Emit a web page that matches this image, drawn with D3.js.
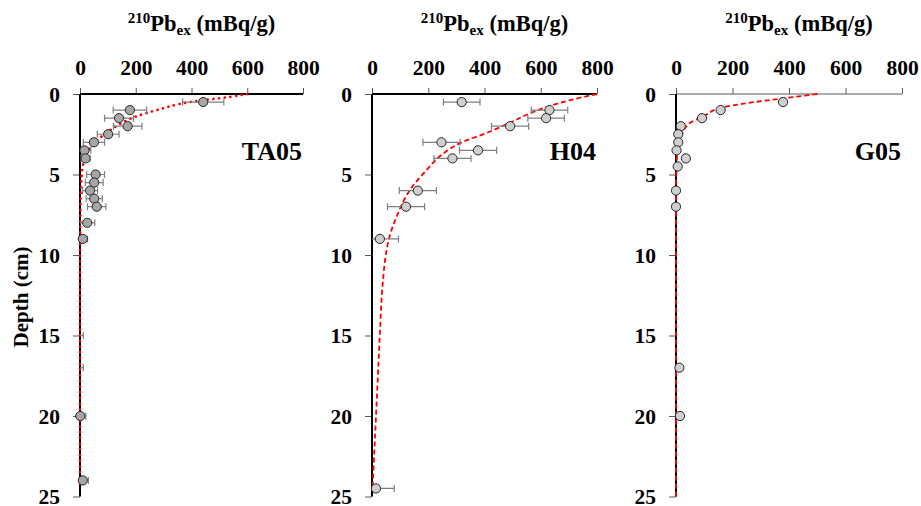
<!DOCTYPE html>
<html>
<head>
<meta charset="utf-8">
<script src="https://d3js.org/d3.v7.min.js"></script>
<style>
  body { margin: 0; background: #fff; }
  text { font-family: "Liberation Serif", "Times New Roman", serif; font-weight: bold; fill: #000; }
</style>
</head>
<body>
<div id="chart"></div>
<script>
// tick values
var depthTicks = [0, 5, 10, 15, 20, 25];
var actTicks = [0, 200, 400, 600, 800];
var siteNames = ["TA05", "H04", "G05"];

// TA05 measured 210Pbex (mBq/g) with error
var ta05Depth = [0.5, 1, 1.5, 2, 2.5, 3, 3.5, 4, 5, 5.5, 6, 6.5, 7, 8, 9, 15, 17, 20, 24];
var ta05Pb    = [442, 179, 140, 171, 101, 50, 16, 20, 56, 51, 36, 51, 60, 26, 10, -3, -3, 1, 10];
var ta05Err   = [74, 60, 52, 51, 39, 38, 23, 16, 32, 32, 27, 29, 33, 27, 17, 15, 15, 20, 20];
// TA05 fitted curve
var ta05FitDepth = [0, 0.17, 0.5, 1.0, 1.4, 1.9, 2.5, 3.0, 3.5, 4.0, 4.6, 5.3, 6.5, 8, 10, 24.2];
var ta05FitPb    = [600, 540, 395, 275, 200, 140, 88, 52, 30, 17, 9, 5, 2, 1, 0, 0];

// H04
var h04Depth = [0.5, 1, 1.5, 2, 3, 3.5, 4, 6, 7, 9, 24.5];
var h04Pb    = [319, 631, 619, 491, 247, 377, 286, 163, 121, 28, 14];
var h04Err   = [65, 65, 65, 66, 66, 66, 66, 66, 66, 66, 65];
var h04FitDepth = [0, 0.4, 0.75, 1.2, 1.78, 2.33, 3.05, 3.77, 4.7, 5.96, 7.6, 9.0, 9.9, 11.8, 14.9, 19, 24.5];
var h04FitPb    = [800, 700, 631, 562, 491, 420, 313, 248, 195, 135, 88, 60, 50, 38, 28, 17, 2];

// G05 (no error bars)
var g05Depth = [0.5, 1, 1.5, 2, 2.5, 3, 3.5, 4, 4.5, 6, 7, 17, 20];
var g05Pb    = [379, 158, 92, 17, 8, 8, 2, 35, 6, 0, 0, 12, 14];
var g05FitDepth = [0, 0.27, 0.6, 0.82, 1.4, 1.8, 2.55, 3.2, 4.1, 5, 6, 25];
var g05FitPb    = [500, 379, 238, 167, 96, 49, 20, 8, 3, 1, 0, 0];

var width = 921, height = 506;
var plotTop = 94, plotH = 402.5;

// layout of the three panels
var panels = [
  {name: siteNames[0], left: 80, w: 223, depth: ta05Depth, pb: ta05Pb, err: ta05Err,
   fitD: ta05FitDepth, fitP: ta05FitPb, fill: "#a6a6a6", dash: "0.1,5.6", fitW: 2.7, cap: "round",
   axisTop: "#000", axisTopW: 2},
  {name: siteNames[1], left: 372, w: 225, depth: h04Depth, pb: h04Pb, err: h04Err,
   fitD: h04FitDepth, fitP: h04FitPb, fill: "#cfcfcf", dash: "5,3", fitW: 1.8, cap: "butt",
   axisTop: "#000", axisTopW: 2},
  {name: siteNames[2], left: 676, w: 226, depth: g05Depth, pb: g05Pb, err: null,
   fitD: g05FitDepth, fitP: g05FitPb, fill: "#cfcfcf", dash: "5,3", fitW: 1.8, cap: "butt",
   axisTop: "#595959", axisTopW: 1}
];

var svg = d3.select("#chart").append("svg")
    .attr("width", width)
    .attr("height", height);

var y = d3.scaleLinear().domain([0, 25]).range([0, plotH]);

panels.forEach(function(p, i) {
    var x = d3.scaleLinear().domain([0, 800]).range([0, p.w]);

    // title
    var t = svg.append("text")
        .attr("x", p.left + p.w / 2 + 10)
        .attr("y", 31)
        .attr("text-anchor", "middle")
        .style("font-size", "22.5px");
    t.append("tspan").style("font-size", "15px").attr("dy", -8.5).text("210");
    t.append("tspan").attr("dy", 8.5).text("Pb");
    t.append("tspan").style("font-size", "15px").attr("dy", 4).text("ex");
    t.append("tspan").attr("dy", -4).text("\u00a0(mBq/g)");

    var g = svg.append("g")
        .attr("transform", "translate(" + p.left + "," + plotTop + ")");

    g.append("clipPath").attr("id", "clip" + i)
      .append("rect").attr("x", 0).attr("y", -10).attr("width", p.w + 10).attr("height", plotH + 20);

    // x axis on top
    var xa = g.append("g")
        .call(d3.axisTop(x).tickValues(actTicks).tickSizeInner(6).tickSizeOuter(0).tickPadding(13));
    xa.select(".domain").remove();
    xa.attr("font-family", null).attr("font-size", null);
    xa.selectAll(".tick line").attr("stroke", "#595959");
    xa.selectAll("text").style("font-size", "21.5px");

    // y axis
    var ya = g.append("g")
        .call(d3.axisLeft(y).tickValues(depthTicks).tickSizeInner(7).tickSizeOuter(0).tickPadding(13));
    ya.select(".domain").remove();
    ya.attr("font-family", null).attr("font-size", null);
    ya.selectAll(".tick line").attr("stroke", "#595959");
    ya.selectAll("text").style("font-size", "21.5px").attr("dy", "0.34em");

    g.append("line")
        .attr("x1", 0).attr("x2", p.w).attr("y1", 0).attr("y2", 0)
        .attr("stroke", p.axisTop).attr("stroke-width", p.axisTopW);
    g.append("line")
        .attr("x1", 0).attr("x2", 0).attr("y1", 0).attr("y2", plotH)
        .attr("stroke", "#000").attr("stroke-width", 2);

    // site label
    g.append("text")
        .attr("x", p.w - 1)
        .attr("y", 66)
        .attr("text-anchor", "end")
        .style("font-size", "26px")
        .text(p.name);

    // fitted curve
    var fit = p.fitD.map(function(d, k) { return {d: d, v: p.fitP[k]}; });
    var line = d3.line()
        .x(function(d) { return x(d.v); })
        .y(function(d) { return y(d.d); })
        .curve(d3.curveMonotoneY);
    g.append("path")
        .datum(fit)
        .attr("d", line)
        .attr("fill", "none")
        .attr("stroke", "#ff0000")
        .attr("stroke-width", p.fitW)
        .attr("stroke-linecap", p.cap)
        .attr("stroke-dasharray", p.dash);

    var pts = p.depth.map(function(d, k) {
        return {d: d, v: p.pb[k], e: p.err ? p.err[k] : 0};
    });

    // error bars
    if (p.err) {
        var eb = g.append("g").attr("clip-path", "url(#clip" + i + ")")
            .selectAll(".eb").data(pts).enter().append("g")
            .attr("stroke", "#7f7f7f").attr("stroke-width", 1.2);
        eb.append("line")
            .attr("x1", function(d) { return x(d.v - d.e); })
            .attr("x2", function(d) { return x(d.v + d.e); })
            .attr("y1", function(d) { return y(d.d); })
            .attr("y2", function(d) { return y(d.d); });
        eb.append("line")
            .attr("x1", function(d) { return x(d.v - d.e); })
            .attr("x2", function(d) { return x(d.v - d.e); })
            .attr("y1", function(d) { return y(d.d) - 3.5; })
            .attr("y2", function(d) { return y(d.d) + 3.5; });
        eb.append("line")
            .attr("x1", function(d) { return x(d.v + d.e); })
            .attr("x2", function(d) { return x(d.v + d.e); })
            .attr("y1", function(d) { return y(d.d) - 3.5; })
            .attr("y2", function(d) { return y(d.d) + 3.5; });
    }

    // points (values below zero are off the axis, no marker)
    g.selectAll(".pt")
        .data(pts.filter(function(d) { return d.v >= 0; }))
        .enter().append("circle")
        .attr("class", "pt")
        .attr("cx", function(d) { return x(d.v); })
        .attr("cy", function(d) { return y(d.d); })
        .attr("r", 4.6)
        .attr("fill", p.fill)
        .attr("stroke", "#262626")
        .attr("stroke-width", 1);
});

// y label
svg.append("text")
    .attr("transform", "translate(28,297) rotate(-90)")
    .attr("text-anchor", "middle")
    .style("font-size", "21px")
    .text("Depth (cm)");
</script>
</body>
</html>
